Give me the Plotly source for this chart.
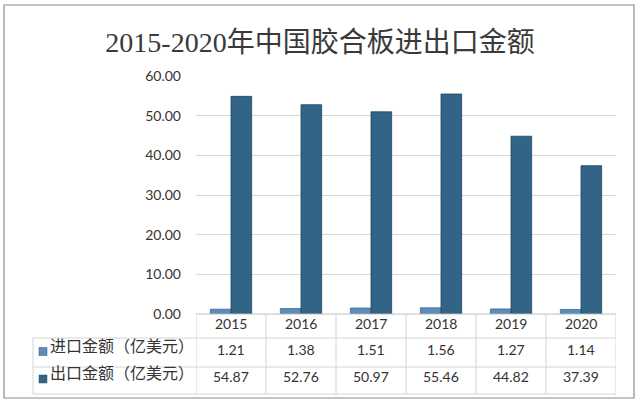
import plotly.graph_objects as go

# 2015-2020 China plywood import/export value (100 million USD)
years = ['2015', '2016', '2017', '2018', '2019', '2020']
import_value = [1.21, 1.38, 1.51, 1.56, 1.27, 1.14]
export_value = [54.87, 52.76, 50.97, 55.46, 44.82, 37.39]
row_labels = ['进口金额（亿美元）', '出口金额（亿美元）']

import_color = '#5b8dba'
export_color = '#326488'
grid_color = '#d9d9d9'
table_line = '#d4d4d4'
text_color = '#333333'
num_font = 'Lato, Noto Sans CJK SC, sans-serif'
cjk_font = 'Noto Sans CJK SC, sans-serif'

# plot area in pixels: x 196..616, y 76..314
L, R, T, B = 196, 24, 76, 91
W, H = 640, 405
PW, PH = W - L - R, H - T - B


def px_x(px):
    return (px - L) / PW


def px_y(py):
    return (H - B - py) / PH


fig = go.Figure()
fig.add_trace(go.Bar(
    x=years, y=import_value, name=row_labels[0],
    marker=dict(color=import_color, line=dict(color='#3d6a90', width=0.8)),
))
fig.add_trace(go.Bar(
    x=years, y=export_value, name=row_labels[1],
    marker=dict(color=export_color, line=dict(color='#1d4560', width=0.8)),
))

shapes = []
annotations = []

# outer frame
shapes.append(dict(type='rect', xref='paper', yref='paper',
                   x0=px_x(4), x1=px_x(634), y0=px_y(398), y1=px_y(5),
                   line=dict(color='#8c8c8c', width=1.2), layer='below'))

# table lines
row_y = [314, 338, 367, 394]
shapes.append(dict(type='line', xref='x', yref='paper', x0=-0.5, x1=len(years) - 0.5,
                   y0=px_y(314), y1=px_y(314), line=dict(color='#bfbfbf', width=1)))
for py in row_y[1:]:
    shapes.append(dict(type='line', xref='paper', yref='paper', x0=px_x(33), x1=1,
                       y0=px_y(py), y1=px_y(py), line=dict(color=table_line, width=1)))
shapes.append(dict(type='line', xref='paper', yref='paper', x0=px_x(33), x1=px_x(33),
                   y0=px_y(338), y1=px_y(394), line=dict(color=table_line, width=1)))
for i in range(len(years) + 1):
    shapes.append(dict(type='line', xref='x', yref='paper', x0=i - 0.5, x1=i - 0.5,
                       y0=px_y(314), y1=px_y(394), line=dict(color=table_line, width=1)))

# header row (years)
for i, yr in enumerate(years):
    annotations.append(dict(x=i, y=px_y(326), xref='x', yref='paper', text=yr, yshift=-8,
                            showarrow=False, font=dict(family=num_font, size=14, color=text_color)))

# data rows
rows = [import_value, export_value]
colors = [import_color, export_color]
text_y = [351.5, 379]
for r, (vals, label, col) in enumerate(zip(rows, row_labels, colors)):
    cy = text_y[r]
    for i, v in enumerate(vals):
        annotations.append(dict(x=i, y=px_y(cy), xref='x', yref='paper', text=f'{v:.2f}', yshift=-8,
                                showarrow=False, font=dict(family=num_font, size=14, color=text_color)))
    shapes.append(dict(type='rect', xref='paper', yref='paper',
                       x0=px_x(39), x1=px_x(47), y0=px_y(cy + 4), y1=px_y(cy - 4),
                       fillcolor=col, line=dict(color='#2a5577', width=0.5)))
    annotations.append(dict(x=px_x(47.5), y=px_y(cy), xref='paper', yref='paper', text=label,
                            xanchor='left', showarrow=False, yshift=-7,
                            font=dict(family=cjk_font, size=16, color=text_color)))

fig.update_layout(
    width=W, height=H,
    margin=dict(l=L, r=R, t=T, b=B),
    paper_bgcolor='white', plot_bgcolor='white',
    title=dict(text='2015-2020年中国胶合板进出口金额', x=0.5, xref='container', xanchor='center',
               y=1 - 42 / H, yref='container', yanchor='middle',
               font=dict(family='Liberation Serif, Noto Sans CJK SC, serif', size=28, color='#3a3a3a')),
    showlegend=False,
    barmode='group', bargap=0.41, bargroupgap=0,
    shapes=shapes, annotations=annotations,
)
fig.update_xaxes(type='category', showticklabels=False, showgrid=False, zeroline=False,
                 showline=False, ticks='', range=[-0.5, len(years) - 0.5], fixedrange=True)
fig.update_yaxes(range=[0, 60], dtick=10, tickformat='.2f', showgrid=True, gridcolor=grid_color,
                 gridwidth=1, zeroline=False, showline=False, ticks='', ticklabelstandoff=14,
                 tickfont=dict(family=num_font, size=14, color=text_color))

# page body has a default 8px margin; drop it so the figure fills the window
fig.write_html("out.html", config={'displayModeBar': False},
               post_script="document.body.style.margin='0';")
